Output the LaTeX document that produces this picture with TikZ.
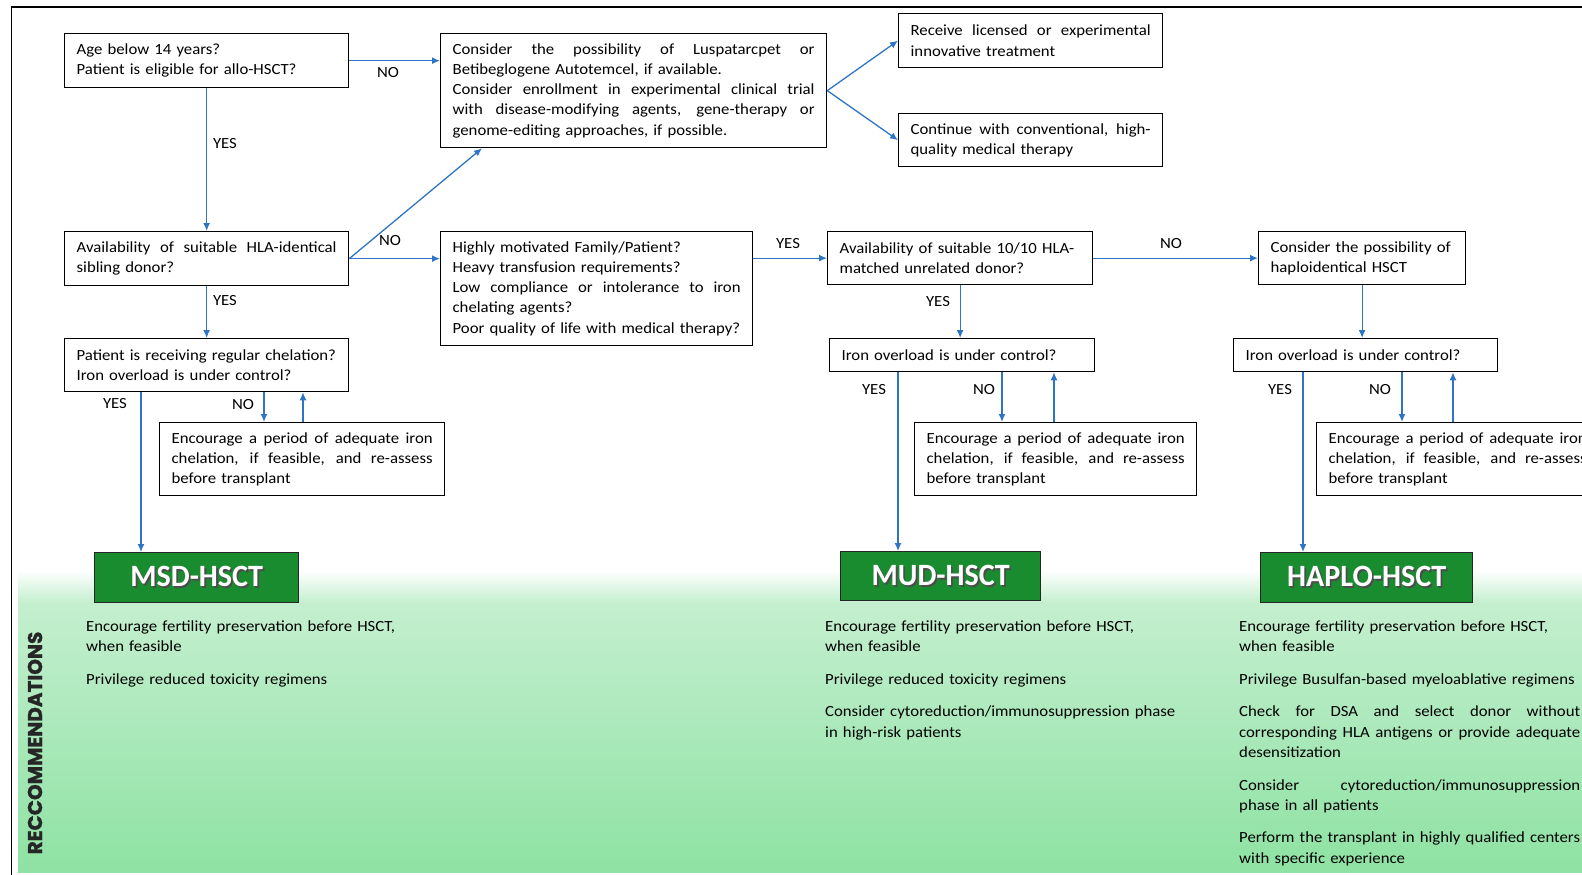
\documentclass[tikz,border=0pt]{standalone}
\usepackage{fontspec}
\setmainfont{Carlito}[FakeStretch=1.08]
\newfontfamily\titlefont{Carlito}[FakeStretch=0.97]
\newfontfamily\recfont{Poppins}[FakeBold=1.2]
\usetikzlibrary{arrows.meta,calc}
\definecolor{arrowblue}{HTML}{2E75C6}
\definecolor{gbox}{HTML}{1A8C30}
\definecolor{gtop}{HTML}{C4EFCF}
\definecolor{gbot}{HTML}{8EE2A3}
\setlength{\parindent}{0pt}
\newlength{\jw}
\newcommand{\jl}[1]{\makebox[\jw][s]{\spaceskip=0pt\xspaceskip=0pt #1}}
\newcommand{\shtext}[1]{\leavevmode\rlap{\kern1.8pt\raisebox{-1.8pt}{\color{black!70}#1}}#1}
\tikzset{
  box/.style={draw=black, line width=1.3pt, fill=white, inner xsep=12pt, inner ysep=2pt,
    align=left, anchor=north west, font=\fontsize{15.5}{20.2}\selectfont,
    text width=#1, execute at begin node={\setlength{\jw}{#1}}},
  arr/.style={draw=arrowblue, line width=1.3pt, -{Latex[length=8pt,width=7pt]}},
  lbl/.style={font=\fontsize{15.5}{20}\selectfont, inner sep=0pt},
  titlebox/.style={draw=black!85, line width=1.4pt, fill=gbox, anchor=north west, text=white,
    font=\titlefont\bfseries\fontsize{31}{32}\selectfont},
  rec/.style={anchor=north west, inner sep=0pt, align=left, font=\fontsize{15.5}{20.2}\selectfont,
    text width=#1, execute at begin node={\setlength{\jw}{#1}}}
}
\begin{document}
\begin{tikzpicture}[x=1pt,y=-1pt]
\useasboundingbox (0,0) rectangle (1582,875);
\clip (0,0) rectangle (1582,875);
% green background
\shade[top color=white, bottom color=gtop] (18,570) rectangle (1582,603);
\shade[top color=gtop, bottom color=gbot] (18,603) rectangle (1582,872);
% frame
\draw[line width=1.5pt] (11.5,900) -- (11.5,7) -- (1600,7);

% boxes
\node[box=260pt, minimum height=54pt] (A) at (64,33)
  {Age below 14 years?\\Patient is eligible for allo-HSCT?};
\node[box=362pt, minimum height=114pt] (C) at (440,33)
  {\jl{Consider the possibility of Luspatarcpet or}\\
   Betibeglogene Autotemcel, if available.\\
   \jl{Consider enrollment in experimental clinical trial}\\
   \jl{with disease-modifying agents, gene-therapy or}\\
   genome-editing approaches, if possible.};
\node[box=240pt, minimum height=54pt] (D) at (898,13)
  {\jl{Receive licensed or experimental}\\innovative treatment};
\node[box=240pt, minimum height=53pt] (E) at (898,113)
  {\jl{Continue with conventional, high-}\\quality medical therapy};
\node[box=260pt, minimum height=54pt] (B) at (64,231)
  {\jl{Availability of suitable HLA-identical}\\sibling donor?};
\node[box=288pt, minimum height=114pt] (F) at (440,231)
  {Highly motivated Family/Patient?\\
   Heavy transfusion requirements?\\
   \jl{Low compliance or intolerance to iron}\\
   chelating agents?\\
   Poor quality of life with medical therapy?};
\node[box=241pt, minimum height=53pt] (G) at (827,231)
  {Availability of suitable 10/10 HLA-\\matched unrelated donor?};
\node[box=183pt, minimum height=53pt] (H) at (1258,231)
  {Consider the possibility of\\haploidentical HSCT};
\node[box=260pt, minimum height=53pt] (I) at (64,338)
  {Patient is receiving regular chelation?\\Iron overload is under control?};
\node[box=261pt, minimum height=73pt] (J) at (159,422)
  {\jl{Encourage a period of adequate iron}\\
   \jl{chelation, if feasible, and re-assess}\\
   before transplant};
\node[box=241pt, minimum height=33pt] (K) at (829,338)
  {Iron overload is under control?};
\node[box=258pt, minimum height=73pt] (L) at (914,422)
  {\jl{Encourage a period of adequate iron}\\
   \jl{chelation, if feasible, and re-assess}\\
   before transplant};
\node[box=240pt, minimum height=33pt] (M) at (1233,338)
  {Iron overload is under control?};
\node[box=258pt, minimum height=73pt] (N) at (1316,422)
  {\jl{Encourage a period of adequate iron}\\
   \jl{chelation, if feasible, and re-assess}\\
   before transplant};

% title boxes
\node[titlebox, minimum width=204pt, minimum height=50pt] (MSD) at (94,552) {\shtext{MSD-HSCT}};
\node[titlebox, minimum width=200pt, minimum height=49pt] (MUD) at (840,551) {\shtext{MUD-HSCT}};
\node[titlebox, minimum width=212pt, minimum height=50pt] (HAPLO) at (1260,552) {\shtext{HAPLO-HSCT}};

% arrows
\draw[arr] (A.east) -- (A.east -| C.west);
\draw[arr] (A.south) -- (B.north);
\coordinate (c1) at ([xshift=42pt]C.south west);
\draw[arr] (B.east) -- (c1);
\draw[arr] (B.east) -- (B.east -| F.west);
\draw[arr] (B.south) -- (I.north);
\draw[arr] (C.east) -- (D.west);
\draw[arr] (C.east) -- (E.west);
\draw[arr] (G.west -| F.east) -- (G.west);
\draw[arr] (G.east) -- (G.east -| H.west);
\draw[arr] (G.south) -- (G.south |- K.north);
\draw[arr] (H.south) -- (H.south |- M.north);

\coordinate (i1) at ([xshift=77pt]I.south west);
\coordinate (i2) at ([xshift=200pt]I.south west);
\coordinate (i3) at ([xshift=239pt]I.south west);
\draw[arr] (i1) -- (i1 |- MSD.north);
\draw[arr] (i2) -- (i2 |- J.north);
\draw[arr] (i3 |- J.north) -- (i3);

\coordinate (k1) at ([xshift=69pt]K.south west);
\coordinate (k2) at ([xshift=173pt]K.south west);
\coordinate (k3) at ([xshift=225pt]K.south west);
\draw[arr] (k1) -- (k1 |- MUD.north);
\draw[arr] (k2) -- (k2 |- L.north);
\draw[arr] (k3 |- L.north) -- (k3);

\coordinate (m1) at ([xshift=70pt]M.south west);
\coordinate (m2) at ([xshift=169pt]M.south west);
\coordinate (m3) at ([xshift=220pt]M.south west);
\draw[arr] (m1) -- (m1 |- HAPLO.north);
\draw[arr] (m2) -- (m2 |- N.north);
\draw[arr] (m3 |- N.north) -- (m3);

% labels
\node[lbl] (l1) at (388,73) {NO};
\node[lbl] (l2) at (225,144) {YES};
\node[lbl] (l3) at (390,241) {NO};
\node[lbl] (l4) at (225,301) {YES};
\node[lbl] (l5) at (788,244) {YES};
\node[lbl] (l6) at (1171,244) {NO};
\node[lbl] (l7) at (938,302) {YES};
\node[lbl] (l8) at (115,404) {YES};
\node[lbl] (l9) at (243,405) {NO};
\node[lbl] (l10) at (874,390) {YES};
\node[lbl] (l11) at (984,390) {NO};
\node[lbl] (l12) at (1280,390) {YES};
\node[lbl] (l13) at (1380,390) {NO};

% recommendations
\node[rotate=90, inner sep=0pt, text=black!85, font=\recfont\bfseries\fontsize{20}{20}\selectfont] (rectitle) at (35,743) {RECCOMMENDATIONS};
\node[rec=330pt] (r1) at (86,617)
  {\strut Encourage fertility preservation before HSCT,\\
   when feasible\\[12.5pt]
   Privilege reduced toxicity regimens};
\node[rec=360pt] (r2) at (825,617)
  {\strut Encourage fertility preservation before HSCT,\\
   when feasible\\[12.5pt]
   Privilege reduced toxicity regimens\\[12.5pt]
   Consider cytoreduction/immunosuppression phase\\
   in high-risk patients};
\node[rec=341pt] (r3) at (1239,617)
  {\strut Encourage fertility preservation before HSCT,\\
   when feasible\\[12.5pt]
   Privilege Busulfan-based myeloablative regimens\\[12.5pt]
   \jl{Check for DSA and select donor without}\\
   \jl{corresponding HLA antigens or provide adequate}\\
   desensitization\\[12.5pt]
   \jl{Consider cytoreduction/immunosuppression}\\
   phase in all patients\\[12.5pt]
   Perform the transplant in highly qualified centers\\
   with specific experience};
\end{tikzpicture}
\end{document}
